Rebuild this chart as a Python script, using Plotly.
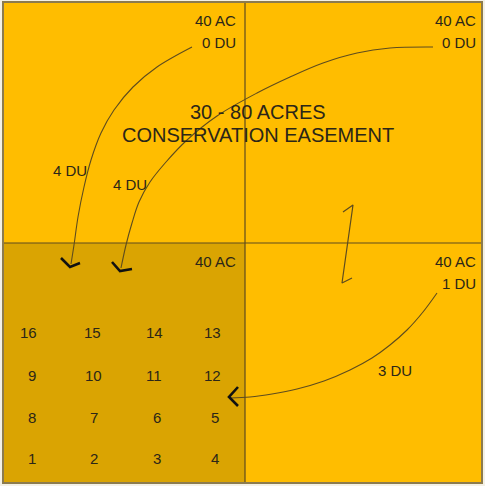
import plotly.graph_objects as go

W, H = 485, 486

# Quadrant geometry (pixel-like diagram units)
frame_x = [3, 482]
frame_y = [2, 483]
center = [245, 243]

# Colours
c_main = "#FFBD00"
c_dark = "#DAA402"
c_line = "#5E4C1E"
c_text = "#2B2618"

# Right-aligned quadrant labels
qlab_text = ["40 AC", "0 DU", "40 AC", "0 DU", "40 AC", "40 AC", "1 DU"]
qlab_x = [238, 238, 478, 478, 238, 478, 478]
qlab_y = [20, 42, 20, 42, 261, 261, 283]

# Transfer labels
du_text = ["4 DU", "4 DU", "3 DU"]
du_x = [70, 130, 395]
du_y = [170, 184, 370]

# Title
title_lines = ["30 - 80 ACRES", "CONSERVATION EASEMENT"]
title_x = [258, 258]
title_y = [112, 135]

# Lot numbers grid
lot_text = ["16", "15", "14", "13",
            "9", "10", "11", "12",
            "8", "7", "6", "5",
            "1", "2", "3", "4"]
lot_x = [28, 92, 154, 212,
         32, 93, 154, 212,
         32, 94, 157, 215,
         32, 94, 157, 215]
lot_y = [332, 332, 332, 332,
         375, 375, 375, 375,
         417, 417, 417, 417,
         458, 458, 458, 458]

# Curved transfer lines
curve1_x = [192, 157, 133, 114, 101, 91, 84, 78, 74, 71]
curve1_y = [47, 67, 87, 110, 133, 160, 187, 217, 245, 264]
curve2_x = [433, 390, 357, 323, 290, 257, 217, 187, 166, 150, 139, 132, 126, 121]
curve2_y = [47, 48, 53, 63, 77, 93, 116, 140, 162, 182, 202, 223, 245, 268]
curve3_x = [437, 423, 407, 390, 372, 350, 324, 297, 272, 250, 230]
curve3_y = [293, 312, 330, 345, 358, 370, 381, 389, 394, 397, 398]

# Arrowheads (chevrons)
head1_x = [61, 70, 80]
head1_y = [258, 267, 263]
head2_x = [112, 120, 132]
head2_y = [262, 271, 269]
head3_x = [238, 229, 238]
head3_y = [387, 397, 406]

# Break symbol on divider
zig_x = [343, 353, 342, 352]
zig_y = [212, 205, 283, 278]

font_fam = "Liberation Sans, Arial, sans-serif"

fig = go.Figure()

shapes = [
    dict(type="rect", x0=frame_x[0], x1=frame_x[1], y0=frame_y[0], y1=frame_y[1],
         fillcolor=c_main, line=dict(color="#8C7B4E", width=2), layer="below"),
    dict(type="rect", x0=frame_x[0], x1=center[0], y0=center[1], y1=frame_y[1],
         fillcolor=c_dark, line=dict(width=0), layer="below"),
    dict(type="line", x0=center[0], x1=center[0], y0=frame_y[0], y1=frame_y[1],
         line=dict(color=c_line, width=1.2)),
    dict(type="line", x0=frame_x[0], x1=frame_x[1], y0=center[1], y1=center[1],
         line=dict(color=c_line, width=1.2)),
    dict(type="rect", x0=frame_x[0], x1=frame_x[1], y0=frame_y[0], y1=frame_y[1],
         fillcolor="rgba(0,0,0,0)", line=dict(color="#8C7B4E", width=2)),
]

for cx, cy in [(curve1_x, curve1_y), (curve2_x, curve2_y), (curve3_x, curve3_y)]:
    fig.add_trace(go.Scatter(x=cx, y=cy, mode="lines",
                             line=dict(color=c_line, width=1.1, shape="spline", smoothing=1.0),
                             hoverinfo="skip", showlegend=False))

for hx, hy in [(head1_x, head1_y), (head2_x, head2_y), (head3_x, head3_y)]:
    fig.add_trace(go.Scatter(x=hx, y=hy, mode="lines",
                             line=dict(color="#111111", width=2.6),
                             hoverinfo="skip", showlegend=False))

fig.add_trace(go.Scatter(x=zig_x, y=zig_y, mode="lines",
                         line=dict(color=c_line, width=1.2),
                         hoverinfo="skip", showlegend=False))

annotations = []
for t, x, y in zip(qlab_text, qlab_x, qlab_y):
    annotations.append(dict(x=x, y=y, text=t, xanchor="right", yanchor="middle",
                            showarrow=False, font=dict(family=font_fam, size=15, color=c_text)))
for t, x, y in zip(du_text, du_x, du_y):
    annotations.append(dict(x=x, y=y, text=t, xanchor="center", yanchor="middle",
                            showarrow=False, font=dict(family=font_fam, size=15, color=c_text)))
for t, x, y in zip(title_lines, title_x, title_y):
    annotations.append(dict(x=x, y=y, text=t, xanchor="center", yanchor="middle",
                            showarrow=False, font=dict(family=font_fam, size=20, color=c_text)))
for t, x, y in zip(lot_text, lot_x, lot_y):
    annotations.append(dict(x=x, y=y, text=t, xanchor="center", yanchor="middle",
                            showarrow=False, font=dict(family=font_fam, size=15, color=c_text)))

fig.update_layout(
    width=W, height=H,
    margin=dict(l=0, r=0, t=0, b=0),
    paper_bgcolor="#F4F1E6",
    plot_bgcolor="#F4F1E6",
    xaxis=dict(range=[0, W], visible=False, fixedrange=True),
    yaxis=dict(range=[H, 0], visible=False, fixedrange=True),
    shapes=shapes,
    annotations=annotations,
    showlegend=False,
)

fig.write_html("out.html", config={"displayModeBar": False},
               post_script="document.body.style.margin='0';document.body.style.overflow='hidden';")
